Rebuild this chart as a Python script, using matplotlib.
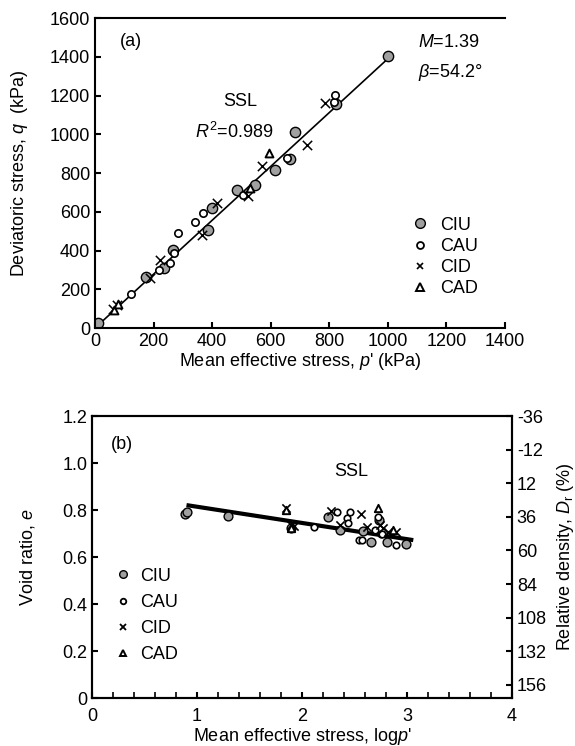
import matplotlib
matplotlib.use("Agg")
import matplotlib.pyplot as plt
from matplotlib.lines import Line2D

plt.rcParams['font.family'] = ['Liberation Sans', 'DejaVu Sans']
plt.rcParams['font.size'] = 13
plt.rcParams['axes.unicode_minus'] = False
plt.rcParams['mathtext.fontset'] = 'custom'
plt.rcParams['mathtext.rm'] = 'Liberation Sans'
plt.rcParams['mathtext.it'] = 'Liberation Sans:italic'

# ---- panel (a): q - p' ----
ciu_p = [0, 11, 174, 234, 268, 387, 399, 484, 547, 615, 667, 684, 822, 1002]
ciu_q = [15, 24, 265, 308, 403, 506, 619, 710, 739, 816, 872, 1013, 1158, 1406]
cau_p = [122, 220, 256, 270, 285, 342, 370, 507, 655, 815, 820]
cau_q = [176, 300, 334, 386, 489, 549, 593, 687, 877, 1165, 1204]
cid_p = [60, 75, 188, 222, 365, 416, 523, 570, 724, 786]
cid_q = [100, 120, 257, 351, 481, 644, 682, 834, 946, 1161]
cad_p = [65, 80, 530, 593]
cad_q = [95, 125, 722, 903]
ssl_p = [0, 1000]
ssl_q = [0, 1390]

# ---- panel (b): e - log p' ----
ciu_logp = [0.886, 0.908, 1.30, 1.90, 2.25, 2.36, 2.58, 2.66, 2.73, 2.81, 2.99]
ciu_e = [0.783, 0.793, 0.774, 0.725, 0.771, 0.715, 0.712, 0.665, 0.757, 0.663, 0.655]
cau_logp = [2.11, 2.335, 2.425, 2.44, 2.457, 2.54, 2.57, 2.70, 2.72, 2.75, 2.76, 2.90]
cau_e = [0.729, 0.793, 0.765, 0.743, 0.793, 0.672, 0.672, 0.715, 0.771, 0.70, 0.70, 0.651]
cid_logp = [1.85, 1.90, 1.92, 2.28, 2.36, 2.56, 2.62, 2.74, 2.77, 2.82, 2.90]
cid_e = [0.81, 0.735, 0.73, 0.797, 0.736, 0.783, 0.729, 0.736, 0.722, 0.708, 0.708]
cad_logp = [1.85, 1.90, 2.72, 2.87]
cad_e = [0.80, 0.725, 0.81, 0.715]
ssl_logp = [0.90, 3.06]
ssl_e = [0.821, 0.672]

e_max = 0.985
e_min = 0.39
dr_ticks = [-36, -12, 12, 36, 60, 84, 108, 132, 156]

grey = '#a0a0a0'

fig = plt.figure(figsize=(5.75, 7.46), dpi=100)


def style_axis(ax):
    for s in ax.spines.values():
        s.set_linewidth(1.5)
    ax.tick_params(direction='in', length=4, width=1.5, labelsize=13)


# panel (a)
axa = fig.add_axes([0.1652, 0.5603, 0.713, 0.4155])
axa.plot(ssl_p, ssl_q, color='black', lw=1.2, zorder=1)
axa.scatter(ciu_p, ciu_q, s=55, marker='o', facecolor=grey, edgecolor='black', linewidth=1, zorder=2)
axa.scatter(cau_p, cau_q, s=28, marker='o', facecolor='white', edgecolor='black', linewidth=1.2, zorder=3)
axa.scatter(cid_p, cid_q, s=45, marker='x', color='black', linewidth=1.1, zorder=3)
axa.scatter(cad_p, cad_q, s=32, marker='^', facecolor='white', edgecolor='black', linewidth=1.4, zorder=3)
axa.set_xlim(0, 1400)
axa.set_ylim(0, 1600)
axa.set_xticks(range(0, 1600, 200))
axa.set_yticks(range(0, 1800, 200))
style_axis(axa)
axa.spines['right'].set_visible(False)
axa.set_xlabel("Mean effective stress, $p$' (kPa)", fontsize=13, labelpad=1)
axa.set_ylabel("Deviatoric stress, $q$  (kPa)", fontsize=13, labelpad=14)
axa.text(0.06, 0.925, '(a)', transform=axa.transAxes, fontsize=13, va='center')
axa.text(0.355, 0.73, 'SSL', transform=axa.transAxes, fontsize=13, ha='center', va='center')
axa.text(0.339, 0.633, '$R^{2}$=0.989', transform=axa.transAxes, fontsize=13, ha='center', va='center')
axa.text(0.788, 0.92, '$M$=1.39', transform=axa.transAxes, fontsize=13, va='center')
axa.text(0.788, 0.825, r'$\beta$=54.2°', transform=axa.transAxes, fontsize=13, va='center')

handles_a = [
    Line2D([], [], ls='none', marker='o', ms=7, mfc=grey, mec='black', mew=1),
    Line2D([], [], ls='none', marker='o', ms=5, mfc='white', mec='black', mew=1.3),
    Line2D([], [], ls='none', marker='x', ms=5, color='black', mew=1.2),
    Line2D([], [], ls='none', marker='^', ms=5.5, mfc='white', mec='black', mew=1.4),
]
axa.legend(handles_a, ['CIU', 'CAU', 'CID', 'CAD'], loc='upper left', bbox_to_anchor=(0.771, 0.359),
           frameon=False, borderpad=0, borderaxespad=0, handlelength=1, handletextpad=0.6,
           labelspacing=0.23, fontsize=13)

# panel (b)
axb = fig.add_axes([0.16, 0.0643, 0.7304, 0.378])
axb.plot(ssl_logp, ssl_e, color='black', lw=3, zorder=1, solid_capstyle='butt')
axb.scatter(ciu_logp, ciu_e, s=40, marker='o', facecolor=grey, edgecolor='black', linewidth=1, zorder=2)
axb.scatter(cau_logp, cau_e, s=22, marker='o', facecolor='white', edgecolor='black', linewidth=1.2, zorder=3)
axb.scatter(cid_logp, cid_e, s=35, marker='x', color='black', linewidth=1.2, zorder=3)
axb.scatter(cad_logp, cad_e, s=28, marker='^', facecolor='white', edgecolor='black', linewidth=1.4, zorder=3)
axb.set_xlim(0, 4)
axb.set_ylim(0, 1.2)
axb.set_xticks([0, 1, 2, 3, 4])
axb.set_xticks([i * 0.2 for i in range(21)], minor=True)
axb.set_yticks([0, 0.2, 0.4, 0.6, 0.8, 1.0, 1.2])
axb.set_yticklabels(['0', '0.2', '0.4', '0.6', '0.8', '1.0', '1.2'])
style_axis(axb)
axb.tick_params(axis='x', pad=7)
axb.tick_params(which='minor', direction='in', length=4, width=1.2)
axb.set_xlabel("Mean effective stress, log$p$'", fontsize=13, labelpad=1)
axb.set_ylabel("Void ratio, $e$", fontsize=13, labelpad=18)
axb.text(0.045, 0.9, '(b)', transform=axb.transAxes, fontsize=13, va='center')
axb.text(0.617, 0.805, 'SSL', transform=axb.transAxes, fontsize=13, ha='center', va='center')

handles_b = [
    Line2D([], [], ls='none', marker='o', ms=5.5, mfc=grey, mec='black', mew=1),
    Line2D([], [], ls='none', marker='o', ms=4, mfc='white', mec='black', mew=1.3),
    Line2D([], [], ls='none', marker='x', ms=5, color='black', mew=1.3),
    Line2D([], [], ls='none', marker='^', ms=4.5, mfc='white', mec='black', mew=1.4),
]
axb.legend(handles_b, ['CIU', 'CAU', 'CID', 'CAD'], loc='upper left', bbox_to_anchor=(0.052, 0.462),
           frameon=False, borderpad=0, borderaxespad=0, handlelength=1, handletextpad=0.45,
           labelspacing=0.51, fontsize=13)

# relative density axis on the right
axr = axb.twinx()
axr.set_ylim((e_max - 0) / (e_max - e_min) * 100, (e_max - 1.2) / (e_max - e_min) * 100)
axr.set_yticks(dr_ticks)
style_axis(axr)
axr.set_ylabel("Relative density, $D_\\mathrm{r}$ (%)", fontsize=13, labelpad=6)

fig.savefig('out.png', dpi=100)
